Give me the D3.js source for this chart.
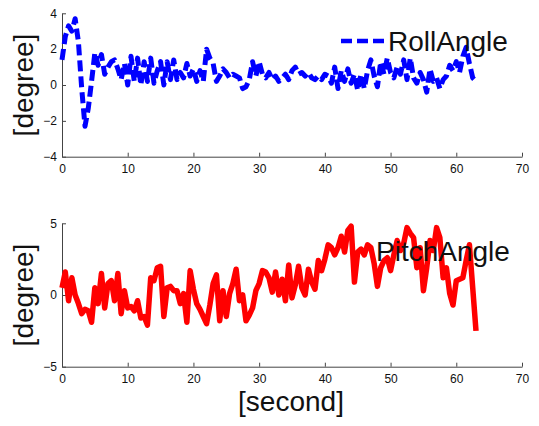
<!DOCTYPE html>
<html>
<head>
<meta charset="utf-8">
<script src="https://cdn.jsdelivr.net/npm/d3@7"></script>
<style>
  body { margin: 0; background: #fff; }
  text { font-family: "Liberation Sans", Arial, Helvetica, sans-serif; }
</style>
</head>
<body>
<div id="chart"></div>
<script>
// sample grid: one value every 0.5 s, 0 .. 63 s
const sampleTimes = d3.range(0, 63.25, 0.5);

const rollAngle = [
  1.4, 2.7, 3.3, 3.0, 3.7, 2.4, -0.2, -2.3, -1.3, 0.2,
  1.8, 1.1, 1.7, 0.6, 1.0, 1.3, 1.4, 0.9, 0.3, 1.2,
  0.0, 1.6, 0.2, 1.5, 0.0, 1.3, 0.2, 1.5, 0.1, 0.8,
  1.3, 0.0, 1.3, 0.3, 1.4, 0.3, 0.7, 0.4, 1.2, 0.5,
  0.9, 0.2, 0.8, 0.2, 2.0, 1.5, 1.2, 0.2, 0.5, 0.9,
  0.7, 0.4, 0.6, 0.5, 0.4, -0.2, -0.1, 0.3, 1.3, 0.5,
  1.3, 0.6, 0.4, 0.7, 0.3, 0.5, 0.2, 0.4, 0.6, 0.3,
  0.8, 1.0, 0.6, 0.7, 0.5, 0.7, 0.4, 0.3, 0.5, 0.3,
  0.6, 0.5, 0.1, 1.0, -0.2, 0.8, 0.2, 0.9, 0.1, 0.6,
  -0.3, 0.6, -0.2, 0.8, 1.4, 0.5, -0.1, 1.3, 0.6, 1.5,
  0.7, 0.4, 1.0, 0.6, 1.4, 0.3, 1.5, 0.4, 0.1, 0.7,
  0.3, -0.4, 0.9, 0.2, 0.4, -0.2, 0.3, 0.5, 1.1, 0.8,
  1.3, 0.7, 1.6, 2.1, 1.2, 0.4, 0.2
];

const pitchAngle = [
  0.5, 1.6, -0.4, 1.2, 0.0, -0.6, -1.3, -1.0, -1.1, -1.9,
  0.5, -0.6, 1.5, -0.9, 0.8, 1.0, -0.4, 1.5, -1.3, 0.3,
  -0.9, -0.8, -1.1, -0.4, -1.6, -1.5, -2.1, 1.2, 1.0, 1.9,
  2.0, -1.5, 0.5, 0.6, 0.3, 0.3, -0.6, 0.1, -1.9, 1.7,
  0.4, -0.6, -1.0, -1.5, -2.0, -0.7, 0.8, 1.4, -1.8, 0.3,
  -1.5, 0.1, 0.8, 1.8, -0.4, 0.0, -1.8, -1.4, -0.9, 0.3,
  0.8, 1.7, 1.6, 1.2, 0.2, 1.6, 0.0, 1.1, -0.4, 2.1,
  -0.2, 0.7, 2.0, 0.5, 0.0, 1.8, 0.9, 0.4, 2.4, 1.7,
  2.5, 3.5, 3.3, 2.8, 3.3, 4.1, 3.0, 4.5, 4.8, 0.9,
  3.0, 3.2, 2.8, 3.5, 3.3, 2.2, 0.6, 1.9, 2.4, 2.6,
  1.7, 2.8, 3.8, 3.1, 3.6, 4.7, 4.3, 4.0, 1.9, 3.3,
  0.3, 1.9, 3.8, 3.1, 4.7, 4.0, 1.2, 1.9, 0.1, -0.7,
  1.0, 1.1, 1.2, 2.4, 3.5, 0.5, -2.5
];

const xTicks = [0, 10, 20, 30, 40, 50, 60, 70];
const rollTicks = [-4, -2, 0, 2, 4];
const pitchTicks = [-5, 0, 5];

const W = 539, H = 426;
const svg = d3.select("#chart").append("svg")
  .attr("width", W).attr("height", H);

const x = d3.scaleLinear().domain([0, 70]).range([62, 522]);

function drawPanel(top, bottom, yDomain, yTicks, values, color, dashed, name, legend) {
  const y = d3.scaleLinear().domain(yDomain).range([bottom, top]);
  const g = svg.append("g");

  // ejes (solo izquierda y abajo, ticks hacia dentro)
  const xAxis = g.append("g")
    .attr("transform", `translate(0,${bottom})`)
    .call(d3.axisBottom(x).tickValues(xTicks).tickSizeInner(-4).tickSizeOuter(0).tickPadding(8));
  const yAxis = g.append("g")
    .attr("transform", `translate(62,0)`)
    .call(d3.axisLeft(y).tickValues(yTicks).tickSizeInner(-4).tickSizeOuter(0).tickPadding(5));

  [xAxis, yAxis].forEach(a => {
    a.select(".domain").attr("stroke", "#444");
    a.selectAll(".tick line").attr("stroke", "#444");
    a.selectAll(".tick text").attr("fill", "#111").style("font-size", "12px");
  });

  const line = d3.line()
    .x((d, i) => x(sampleTimes[i]))
    .y(d => y(d));

  g.append("path")
    .datum(values)
    .attr("fill", "none")
    .attr("stroke", color)
    .attr("stroke-width", dashed ? 5 : 5.5)
    .attr("stroke-linejoin", "round")
    .attr("stroke-dasharray", dashed ? "11,5" : null)
    .attr("d", line);

  // etiqueta eje y
  g.append("text")
    .attr("transform", `translate(33,${(top + bottom) / 2}) rotate(-90)`)
    .attr("text-anchor", "middle")
    .style("font-size", "28px")
    .attr("fill", "#111")
    .text("[degree]");

  // leyenda
  if (legend.line) {
    g.append("line")
      .attr("x1", legend.x - 47).attr("x2", legend.x - 4)
      .attr("y1", legend.y - 10).attr("y2", legend.y - 10)
      .attr("stroke", color).attr("stroke-width", 4.5)
      .attr("stroke-dasharray", dashed ? "11,5" : null);
  }
  g.append("text")
    .attr("x", legend.x).attr("y", legend.y)
    .style("font-size", "28px")
    .attr("fill", "#111")
    .text(name);
}

drawPanel(13.3, 156.7, [-4, 4], rollTicks, rollAngle, "#0000ff", true, "RollAngle",
  { x: 388, y: 51, line: true });
drawPanel(223.3, 366.7, [-5, 5], pitchTicks, pitchAngle, "#ff0000", false, "PitchAngle",
  { x: 376, y: 261, line: false });

svg.append("text")
  .attr("x", 291).attr("y", 411)
  .attr("text-anchor", "middle")
  .style("font-size", "28px")
  .attr("fill", "#111")
  .text("[second]");
</script>
</body>
</html>
